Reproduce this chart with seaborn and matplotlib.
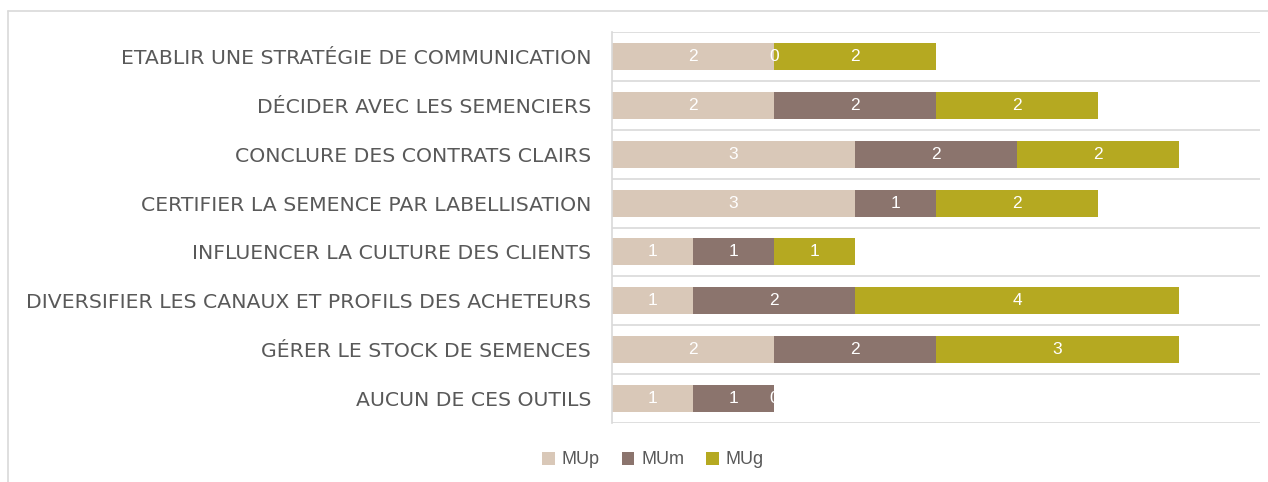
import matplotlib
matplotlib.use("Agg")
import matplotlib.pyplot as plt
import seaborn as sns
import pandas as pd
import numpy as np
from matplotlib.lines import Line2D
from matplotlib.patches import Patch

categories = [
    "ETABLIR UNE STRATÉGIE DE COMMUNICATION",
    "DÉCIDER AVEC LES SEMENCIERS",
    "CONCLURE DES CONTRATS CLAIRS",
    "CERTIFIER LA SEMENCE PAR LABELLISATION",
    "INFLUENCER LA CULTURE DES CLIENTS",
    "DIVERSIFIER LES CANAUX ET PROFILS DES ACHETEURS",
    "GÉRER LE STOCK DE SEMENCES",
    "AUCUN DE CES OUTILS",
]
mup = [2, 2, 3, 3, 1, 1, 2, 1]
mum = [0, 2, 2, 1, 1, 2, 2, 1]
mug = [2, 2, 2, 2, 1, 4, 3, 0]
series_names = ["MUp", "MUm", "MUg"]
colors = ["#D9C8B8", "#8B746D", "#B5A921"]

sns.set_theme(style="white")
plt.rcParams["font.family"] = ["Liberation Sans", "DejaVu Sans"]

df = pd.DataFrame({"cat": categories, "MUp": mup, "MUm": mum, "MUg": mug})
df["c1"] = df["MUp"]
df["c2"] = df["MUp"] + df["MUm"]
df["c3"] = df["c2"] + df["MUg"]

fig = plt.figure(figsize=(12.68, 4.82), dpi=100)
ax = fig.add_axes([612 / 1268, 1 - 423 / 482, (1260 - 612) / 1268, (423 - 32) / 482])

for col, color in zip(["c3", "c2", "c1"], colors[::-1]):
    sns.barplot(data=df, x=col, y="cat", color=color, orient="h", ax=ax,
                width=0.55, linewidth=0, saturation=1, order=categories)

# data labels
for i, row in df.iterrows():
    starts = [0, row["c1"], row["c2"]]
    vals = [row["MUp"], row["MUm"], row["MUg"]]
    for s, v in zip(starts, vals):
        ax.text(s + v / 2, i, f"{v}", ha="center", va="center", color="white",
                fontsize=12.5)

ax.set_xlim(0, 8)
ax.set_ylim(7.5, -0.5)
ax.set_xlabel("")
ax.set_ylabel("")
ax.set_xticks([])
for y in np.arange(-0.5, 8, 1):
    ax.axhline(y, color="#D9D9D9", linewidth=1.2, zorder=0)
for sp in ["top", "right", "bottom"]:
    ax.spines[sp].set_visible(False)
ax.spines["left"].set_color("#D9D9D9")
ax.spines["left"].set_linewidth(1.2)
ax.tick_params(axis="y", length=0, pad=15, labelcolor="#595959")
for lab in ax.get_yticklabels():
    lab.set_fontfamily(["DejaVu Sans"])
    lab.set_fontsize(14.7)

handles = [Patch(facecolor=c, edgecolor="none") for c in colors]
fig.legend(handles, series_names, loc="center", bbox_to_anchor=(0.515, 1 - 460 / 482),
           ncol=3, frameon=False, fontsize=13, labelcolor="#595959",
           handlelength=0.7, handleheight=0.7, handletextpad=0.4, columnspacing=1.2)

# outer chart frame (top and left edges visible)
fig.add_artist(Line2D([8 / 1268, 8 / 1268], [0, 1 - 11 / 482], transform=fig.transFigure,
                      color="#D9D9D9", linewidth=1.2))
fig.add_artist(Line2D([8 / 1268, 1], [1 - 11 / 482, 1 - 11 / 482], transform=fig.transFigure,
                      color="#D9D9D9", linewidth=1.2))

fig.savefig("out.png", dpi=100)
